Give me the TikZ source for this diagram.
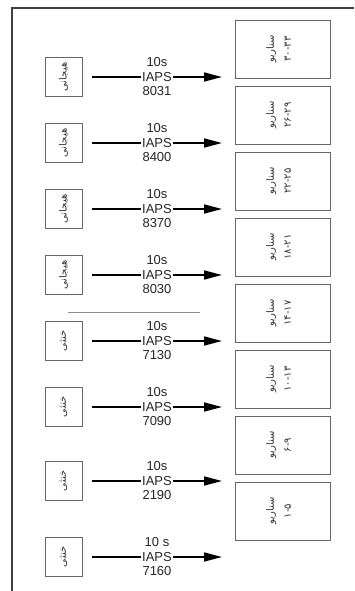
\documentclass[tikz,border=0pt]{standalone}
\usepackage{fontspec}
\setmainfont{Liberation Sans}
\newfontfamily\arabicfont[Script=Arabic]{DejaVu Sans}
\TeXXeTstate=1
\usetikzlibrary{arrows.meta}
\begin{document}
\begin{tikzpicture}[x=1pt,y=-1pt,
  frame/.style={draw=black!75, line width=1.6pt},
  leftbox/.style={draw=black!60, line width=0.8pt, minimum width=37pt, minimum height=39pt, inner sep=0pt},
  rightbox/.style={draw=black!60, line width=0.8pt, minimum width=95pt, minimum height=58pt, inner sep=0pt},
  arr/.style={draw=black, line width=1.6pt, -{Triangle[length=18pt,width=9pt]}, shorten <=10pt},
  lbl/.style={fill=white, inner xsep=1pt, inner ysep=0pt, align=center, font=\fontsize{13}{14.5}\selectfont, text=black!85},
  fa/.style={rotate=90, align=center, font=\fontsize{10}{17}\arabicfont, text=black!80},
  sep/.style={draw=black!45, line width=0.8pt},
]
\useasboundingbox (0,0) rectangle (354,591);
% frame
\coordinate (fb) at (12,591);
\coordinate (fc) at (12,8);
\coordinate (fr) at (354,8);
\draw[frame] (fb) -- (fc) -- (fr);
% rows
\foreach \i/\y/\w/\t/\n in {1/77/هیجانی/10s/8031, 2/143/هیجانی/10s/8400, 3/209/هیجانی/10s/8370, 4/275/هیجانی/10s/8030, 5/341/خنثی/10s/7130, 6/407/خنثی/10s/7090, 7/481/خنثی/10s/2190, 8/557/خنثی/10 s/7160}{
  \node[leftbox] (l\i) at (63.5,\y) {};
  \node[fa] (lt\i) at (l\i) {\beginR\w\endR};
  \coordinate (a\i) at (222,\y);
  \draw[arr] (l\i) -- (a\i);
  \node[lbl] (t\i) at (157,\y) {\t\\IAPS\\\n};
}
% scenario boxes
\foreach \i/\y/\r in {1/49/۳۰-۳۳, 2/115/۲۶-۲۹, 3/181/۲۲-۲۵, 4/247/۱۸-۲۱, 5/313/۱۴-۱۷, 6/379/۱۰-۱۳, 7/445/۶-۹, 8/511/۱-۵}{
  \node[rightbox] (r\i) at (282.5,\y) {};
  \node[fa] (rt\i) at (278.5,\y) {\beginR سناریو\endR\\\r};
}
% separator
\coordinate (s1) at (68,312);
\coordinate (s2) at (200,312);
\draw[sep] (s1) -- (s2);
\end{tikzpicture}
\end{document}
